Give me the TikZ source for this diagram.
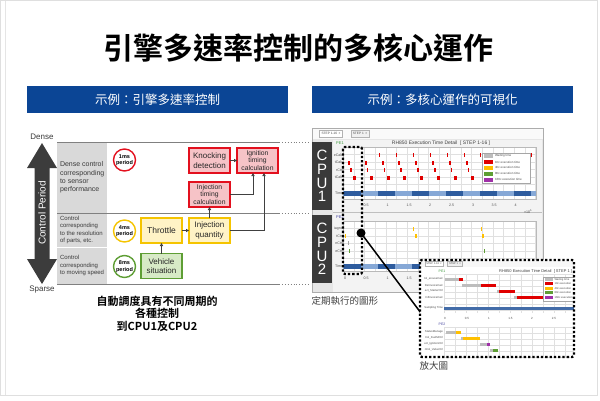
\documentclass[tikz,border=0pt]{standalone}
\usepackage{fontspec}
\setmainfont{Liberation Sans}
\newfontfamily\cjk{Noto Sans CJK TC}[BoldFont={Noto Sans CJK TC Bold}]
\usetikzlibrary{arrows.meta,calc}
\definecolor{bannerblue}{HTML}{0B4595}
\definecolor{darkarrow}{HTML}{3C3C3C}
\definecolor{colgray}{HTML}{D9D9D9}
\definecolor{linegray}{HTML}{808080}
\definecolor{txtgray}{HTML}{3A3A3A}
\definecolor{redb}{HTML}{E3101E}
\definecolor{redf}{HTML}{F6C3C7}
\definecolor{yelb}{HTML}{F5C400}
\definecolor{yelf}{HTML}{FFF3C6}
\definecolor{grnb}{HTML}{5E9E34}
\definecolor{grnf}{HTML}{D7EAC6}
\definecolor{cpubg}{HTML}{3A3A3A}
\definecolor{winbg}{HTML}{E6E6E6}
\definecolor{panelbg}{HTML}{F3F3F3}
\definecolor{gridc}{HTML}{E0E0E0}
\definecolor{tlblue}{HTML}{2E5C9E}
\definecolor{tlblight}{HTML}{86A8D6}
\definecolor{barred}{HTML}{E00000}
\definecolor{baryel}{HTML}{FFC000}
\definecolor{bargrn}{HTML}{5E9E34}
\definecolor{barpur}{HTML}{A030A8}
\definecolor{bargray}{HTML}{BDBDBD}
\definecolor{pegreen}{HTML}{3C9A3C}
\definecolor{peblue}{HTML}{4646A0}
\newcommand{\fsz}[1]{\fontsize{#1}{#1}\selectfont}
\begin{document}
\begin{tikzpicture}[x=1pt,y=-1pt,
  every node/.style={inner sep=0pt,outer sep=0pt},
  banner/.style={fill=bannerblue,text=white,font=\cjk\fsz{12.5},minimum width=261pt,minimum height=27pt},
  rowtext/.style={anchor=west,align=left,text=txtgray},
  periodc/.style={circle,fill=white,line width=1.4pt,minimum size=22pt,align=center,font=\bfseries\fontsize{5.5}{6.5}\selectfont},
  procbox/.style={rectangle,line width=1.3pt,minimum width=41pt,minimum height=25pt,align=center,text=black!85},
  redbox/.style={procbox,draw=redb,fill=redf},
  yelbox/.style={procbox,draw=yelb,fill=yelf},
  grnbox/.style={procbox,draw=grnb,fill=grnf},
  flow/.style={draw=black!75,line width=0.7pt,-{Triangle[length=3pt,width=3.2pt]}},
  bigdots/.style={line width=2.3pt,dash pattern=on 2.3pt off 2pt},
  tinytxt/.style={font=\fsz{3.6},text=black!70},
  tabbox/.style={draw=gray!60,fill=white,font=\fsz{3.2},text=black!70,minimum height=7pt,inner xsep=2pt},
  cpubox/.style={fill=cpubg,text=white,minimum width=20pt,minimum height=68pt,align=center,font=\fontsize{15}{13.7}\selectfont},
  capt/.style={anchor=west,font=\cjk\fsz{9.5},text=black!75},
]
\useasboundingbox (0,0) rectangle (600,400);
\fill[white] (0,0) rectangle (600,400);
\draw[gray!25,line width=1pt] (0.5,0.5) rectangle (597,395.5);
\draw[gray!20,line width=0.8pt] (5.5,1) -- (5.5,395);

% ---------- title and banners
\node[font=\cjk\bfseries\fsz{30}] (title) at (298,48) {引擎多速率控制的多核心運作};
\node[banner] (lban) at (157.5,99.5) {示例：引擎多速率控制};
\node[banner] (rban) at (442.5,99.5) {示例：多核心運作的可視化};

% ---------- left panel
\fill[colgray] (57,142) rectangle (107,213);
\fill[colgray] (57,213) rectangle (107,246.5);
\fill[colgray] (57,248) rectangle (107,284);
\foreach \yy in {142,213,284}{
  \draw[linegray,line width=0.9pt] (57,\yy) -- (279,\yy);
  \draw[linegray,line width=0.9pt,dotted] (279,\yy) -- (310,\yy);
}
\fill[darkarrow] (42,143) -- (57,168) -- (49.5,168) -- (49.5,259) -- (57,259) -- (42,284)
  -- (27,259) -- (34.5,259) -- (34.5,168) -- (27,168) -- cycle;
\node[rotate=90,text=white,font=\fsz{10}] (cperiod) at (42,213) {Control Period};
\node[font=\fsz{8},text=txtgray] (dense) at (42,137) {Dense};
\node[font=\fsz{8},text=txtgray] (sparse) at (42,289.5) {Sparse};

\node[rowtext,font=\fontsize{7}{8.3}\selectfont] (r1) at (60,177.5) {Dense control\\corresponding\\to sensor\\performance};
\node[rowtext,font=\fontsize{6}{7.6}\selectfont] (r2) at (60,230) {Control\\corresponding\\to the resolution\\of parts, etc.};
\node[rowtext,font=\fontsize{6}{7.5}\selectfont] (r3) at (60,265.5) {Control\\corresponding\\to moving speed};

\node[periodc,draw=redb] (p1) at (124.5,160) {1ms\\period};
\node[periodc,draw=yelb] (p4) at (124.5,231) {4ms\\period};
\node[periodc,draw=grnb] (p8) at (124.5,266.5) {8ms\\period};

\node[redbox,font=\fontsize{8}{9.5}\selectfont] (kd) at (209.5,160.5) {Knocking\\detection};
\node[redbox,font=\fontsize{6.8}{7.6}\selectfont] (it) at (257.5,160.5) {Ignition\\timing\\calculation};
\node[redbox,font=\fontsize{6.8}{7.6}\selectfont] (itc) at (209.5,194.5) {Injection\\timing\\calculation};
\node[yelbox,font=\fontsize{8.5}{9.5}\selectfont] (thr) at (161.5,230.5) {Throttle};
\node[yelbox,font=\fontsize{8}{9.5}\selectfont] (iq) at (209.5,230.5) {Injection\\quantity};
\node[grnbox,font=\fontsize{8}{9.5}\selectfont] (vs) at (161.5,266) {Vehicle\\situation};

\draw[flow] (kd.east) -- (it.west);
\draw[flow] (itc.east) -| ($(it.south)+(-4.5,0)$);
\draw[flow] (iq.east) -| ($(it.south)+(6.5,0)$);
\draw[flow] (iq.north) -- (itc.south);
\draw[flow] (thr.east) -- (iq.west);
\draw[flow] (vs.north) -- (thr.south);

\node[font=\cjk\bfseries\fontsize{11}{12.6}\selectfont,align=center] (cap) at (157,313.5) {自動調度具有不同周期的\\各種控制\\到CPU1及CPU2};

% ---------- right panel: window
\draw[gray!65,line width=0.8pt,fill=winbg] (312,128) rectangle (543,292);
\fill[gray!4] (312.5,128.5) rectangle (542.5,139);
\node[tabbox] (tab1) at (331,133.5) {STEP 1-16 \,×};
\node[tabbox,fill=gray!12] (tab2) at (360,133.5) {STEP 1 \,×};
\fill[panelbg] (333,139.5) rectangle (542,211.5);
\fill[panelbg] (333,213) rectangle (542,291.5);
\draw[gray!50,line width=0.4pt] (333,212.2) -- (542,212.2);

% PE1
\node[font=\fsz{4},text=pegreen] (pe1) at (340,143) {PE1};
\node[font=\fsz{5},text=black!75] (t1) at (441,143) {RH850 Execution Time Detail \ [ STEP 1-16 ]};
\fill[white] (343,147) rectangle (536,199);
\foreach \i in {0,...,18} \draw[gridc,line width=0.3pt] ({343+10.7*\i},147) -- ({343+10.7*\i},199);
\foreach \j in {0,...,6} \draw[gridc,line width=0.3pt] (343,{147+7.45*\j}) -- (536,{147+7.45*\j});
\draw[gray!55,line width=0.4pt] (343,147) rectangle (536,199);
\foreach \lab/\yy [count=\n] in {eCalc/155,tCalc/162.5,rCtrl/170,tCalc/177.5,Time/193}
  \node[tinytxt,anchor=east] (a1\n) at (343,\yy) {\lab};
\foreach \k in {0,...,9} \fill[barred] ({379+16.9*\k},153) rectangle ++(1,4);
\foreach \k in {0,...,10} \fill[barred] ({348+16.8*\k},160.5) rectangle ++(2,4);
\foreach \k in {0,...,10} \fill[barred] ({350+16.8*\k},168) rectangle ++(1.6,4);
\foreach \k in {0,...,10} \fill[barred] ({353+16.8*\k},175.5) rectangle ++(3,4.5);
\fill[tlblight] (343,191) rectangle (536,196);
\foreach \k in {0,...,5} \fill[tlblue] ({344+34*\k},191) rectangle ++(17,5);
\node[draw=gray!70,fill=white,minimum width=48pt,minimum height=30pt] (leg1) at (506,168) {};
\foreach \c/\t [count=\n from 0] in {bargray/Waiting time,barred/1ttc execution time,baryel/4ttc execution time,bargrn/8ttc execution time,barpur/16ttc execution time}{
  \fill[\c] (484,{154.3+5.9*\n}) rectangle ++(9,3.6);
  \node[anchor=west,font=\fsz{3},text=black!70] (la\n) at (495,{156.1+5.9*\n}) {\t};
}
\foreach \v/\x [count=\n] in {0.5/366,1/387.5,1.5/409,2/430,2.5/451.5,3/473,3.5/494,4/515.5}
  \node[tinytxt] (ax1\n) at (\x,205) {\v};
\node[tinytxt] (exp1) at (528,212) {×10\textsuperscript{5}};

% PE2
\node[font=\fsz{4},text=peblue] (pe2) at (340,217) {PE2};
\fill[white] (343,221) rectangle (536,271);
\foreach \i in {0,...,18} \draw[gridc,line width=0.3pt] ({343+10.7*\i},221) -- ({343+10.7*\i},271);
\foreach \j in {0,...,6} \draw[gridc,line width=0.3pt] (343,{221+7.45*\j}) -- (536,{221+7.45*\j});
\draw[gray!55,line width=0.4pt] (343,221) rectangle (536,271);
\foreach \lab/\yy [count=\n] in {iagno/228.5,tCtrl/236,nCtrl/243,eCtrl/251,Time/266}
  \node[tinytxt,anchor=east] (a2\n) at (343,\yy) {\lab};
\fill[baryel] (413,226.5) rectangle ++(1,4);
\fill[baryel] (481,226.5) rectangle ++(1,4);
\fill[baryel] (344.5,234) rectangle ++(1.5,4);
\fill[baryel] (415,234) rectangle ++(1.5,4);
\fill[baryel] (482,234) rectangle ++(1.5,4);
\fill[gray!70] (348,241) rectangle ++(0.8,4);
\fill[bargrn] (349,249) rectangle ++(0.8,4);
\fill[bargrn] (484,249) rectangle ++(0.8,4);
\fill[tlblight] (343,264) rectangle (536,268.5);
\foreach \k in {0,...,5} \fill[tlblue] ({344+34*\k},264) rectangle ++(17,4.5);
\foreach \v/\x [count=\n] in {0/345,0.5/366,1/387.5,1.5/409}
  \node[tinytxt] (ax2\n) at (\x,278) {\v};

% CPU labels
\node[cpubox] (cpu1) at (322,176) {C\\P\\U\\1};
\node[cpubox] (cpu2) at (322,249) {C\\P\\U\\2};

% highlight
\draw[bigdots,rounded corners=2pt] (343,147) rectangle (362,274);
\coordinate (zlink) at (421,313);
\node[circle,fill=black,minimum size=9pt] (hdot) at (361,233) {};
\draw[line width=1.5pt] (hdot.center) -- (zlink);

% ---------- zoom box
\begin{scope}
\clip (420,260) rectangle (574,357);
\fill[white] (420,260) rectangle (574,357);
\fill[gray!6] (420,260) rectangle (574,266.5);
\node[tabbox,font=\fsz{2.6},minimum height=5pt,inner xsep=1.5pt] (ztab1) at (434,263.5) {STEP 1-16 \,×};
\node[tabbox,font=\fsz{2.6},minimum height=5pt,inner xsep=1.5pt,fill=gray!12] (ztab2) at (455,263.5) {STEP 1 \,×};
\node[font=\fsz{3.5},text=pegreen] (zpe1) at (442,271) {PE1};
\node[anchor=east,font=\fsz{4},text=black!75] (ztitle) at (572,271) {RH850 Execution Time Detail \ [ STEP 1 ]};
\foreach \i in {0,...,12} \draw[gridc,line width=0.3pt] ({444+11*\i},274) -- ({444+11*\i},313);
\foreach \j in {0,...,6} \draw[gridc,line width=0.3pt] (444,{274+6*\j}) -- (574,{274+6*\j});
\foreach \lab/\yy [count=\n] in {tol\_arouseCalc/279,DeInvoiceCalc/285,ect\_StarterCtrl/291,InfInvoiceCalc/297,Sampling Time/308}
  \node[anchor=east,font=\fsz{2.8},text=black!70] (zl\n) at (443,\yy) {\lab};
\fill[bargray] (445,277.5) rectangle (459,280.5); \fill[barred] (459,277.5) rectangle (463,280.5);
\fill[bargray] (462,283.5) rectangle (481,286.5); \fill[barred] (481,283.5) rectangle (496,286.5);
\fill[bargray] (497,289.5) rectangle (499,292.5); \fill[barred] (499,289.5) rectangle (515,292.5);
\fill[bargray] (514,295.5) rectangle (517,298.5); \fill[barred] (517,295.5) rectangle (552,298.5);
\fill[tlblue!90] (444,306.8) rectangle (574,309.8);
\foreach \v/\x [count=\n] in {0/445,0.5/467,1/489,1.5/510.5,2/532,2.5/554}
  \node[font=\fsz{3},text=black!70] (zax\n) at (\x,318) {\v};
\node[draw=gray!70,fill=white,minimum width=34pt,minimum height=24pt,anchor=north west] (zleg) at (543,277) {};
\foreach \c/\t [count=\n from 0] in {bargray/Waiting time,barred/1ttc execution,baryel/4ttc execution,bargrn/8ttc execution,barpur/16ttc execution}{
  \fill[\c] (545,{277.8+4.5*\n}) rectangle ++(8,3);
  \node[anchor=west,font=\fsz{2.7},text=black!70] (zla\n) at (554.5,{279.3+4.5*\n}) {\t};
}
\node[font=\fsz{3.5},text=peblue] (zpe2) at (442,324) {PE2};
\foreach \i in {0,...,12} \draw[gridc,line width=0.3pt] ({444+11*\i},327) -- ({444+11*\i},357);
\foreach \j in {0,...,5} \draw[gridc,line width=0.3pt] (444,{327+6*\j}) -- (574,{327+6*\j});
\foreach \lab/\yy [count=\n] in {StatusManage/332,trol\_FuelMCtrl/338,ect\_IgnitionCtrl/344,ntrol\_ValveCtrl/350}
  \node[anchor=east,font=\fsz{2.8},text=black!70] (zm\n) at (443,\yy) {\lab};
\fill[bargray] (446,330.5) rectangle (456,333.5); \fill[baryel] (456,330.5) rectangle (461,333.5);
\fill[bargray] (461,336.5) rectangle (463,339.5); \fill[baryel] (463,336.5) rectangle (480,339.5);
\fill[bargray] (480,342.5) rectangle (487,345.5); \fill[barpur] (487,342.5) rectangle (490,345.5);
\fill[bargray] (490,348.5) rectangle (493,351.5); \fill[bargrn] (493,348.5) rectangle (498,351.5);
\end{scope}
\draw[bigdots,rounded corners=2pt] (420,260) rectangle (574,357);

% captions
\node[capt] (cap1) at (311.5,301) {定期執行的圖形};
\node[capt] (cap2) at (419.5,366) {放大圖};
\end{tikzpicture}
\end{document}
